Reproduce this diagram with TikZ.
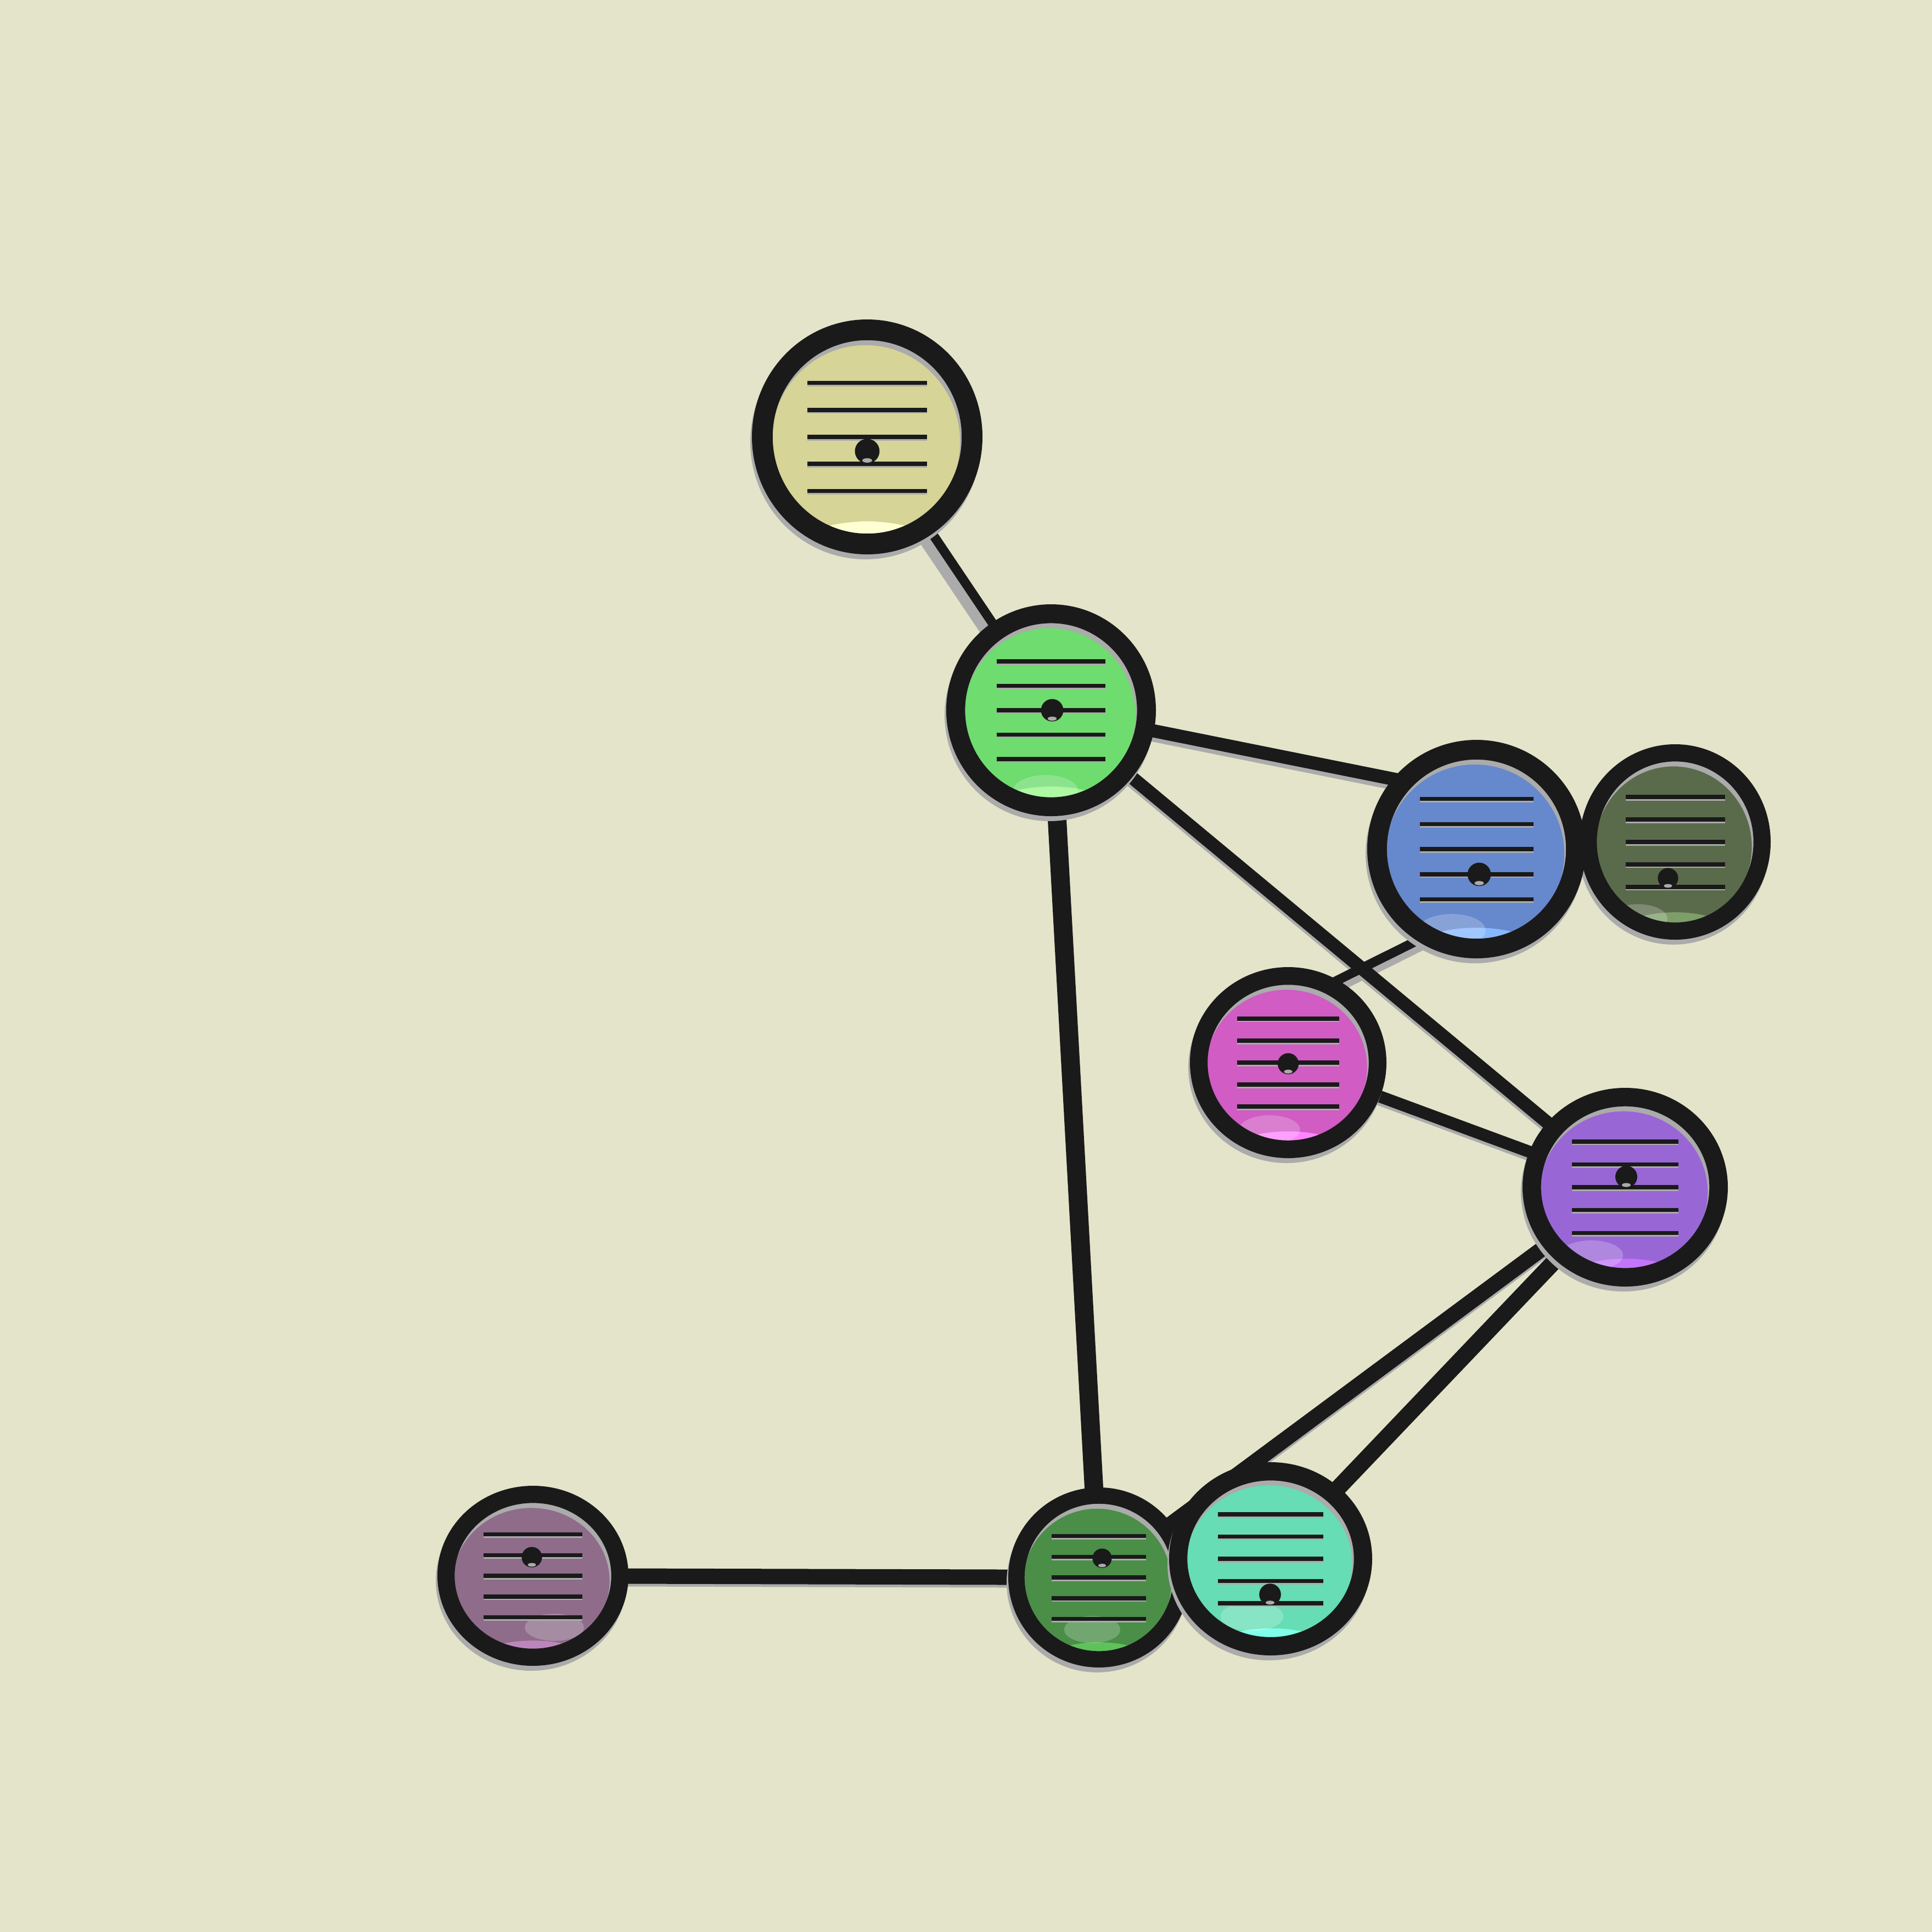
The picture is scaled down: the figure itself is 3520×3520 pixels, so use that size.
\documentclass[tikz,border=0pt]{standalone}
\usetikzlibrary{shapes.geometric}

\definecolor{bg}{HTML}{E4E4CA}
\definecolor{ink}{HTML}{1A1A1A}
\definecolor{dropgrey}{HTML}{ABABAB}
% body colours
\definecolor{cYel}{HTML}{D6D496}
\definecolor{cGrn}{HTML}{6EDC6E}
\definecolor{cBlu}{HTML}{6688CC}
\definecolor{cOlv}{HTML}{5A6B4B}
\definecolor{cPnk}{HTML}{D05CC4}
\definecolor{cPur}{HTML}{9966D6}
\definecolor{cDgr}{HTML}{4A8E48}
\definecolor{cTea}{HTML}{66DDB4}
\definecolor{cMau}{HTML}{8E6C8A}
% bottom glow colours
\definecolor{gYel}{HTML}{FFFFC8}
\definecolor{gGrn}{HTML}{98F58A}
\definecolor{gBlu}{HTML}{86B8FF}
\definecolor{gOlv}{HTML}{7D9E68}
\definecolor{gPnk}{HTML}{FF85FF}
\definecolor{gPur}{HTML}{C476FA}
\definecolor{gDgr}{HTML}{5DC25A}
\definecolor{gTea}{HTML}{7FFFEA}
\definecolor{gMau}{HTML}{BC86BC}

\tikzset{
  anchorbox/.style={ellipse, inner sep=0pt, outer sep=0pt, draw=none},
  link/.style={draw=ink, line cap=butt},
  linkshadow/.style={draw=dropgrey, line cap=butt},
  barline/.style={draw=ink, line width=0.75mm},
  barshadow/.style={draw=dropgrey, line width=0.7mm},
}

% #1 node, #2 x radius, #3 y radius, #4 body, #5 glow, #6/#7 knob offset, #8/#9 sheen offset
\newcommand\bubble[9]{%
\begin{scope}[shift={(#1.center)}]
  \pgfmathsetmacro\rw{0.18*#2}
  \pgfmathsetmacro\mx{#2-0.5*\rw}
  \pgfmathsetmacro\my{#3-0.5*\rw}
  \pgfmathsetmacro\ix{#2-\rw+2}
  \pgfmathsetmacro\iy{#3-\rw+2}
  \pgfmathsetmacro\hw{0.52*#2}
  \pgfmathsetmacro\gap{0.23*#3}
  \pgfmathsetmacro\dr{0.107*#2}
  \fill[#4] (0,0) ellipse [x radius=\ix, y radius=\iy];
  \begin{scope}
    \clip (0,0) ellipse [x radius=\ix, y radius=\iy];
    \fill[#5] (0,{0.96*#3}) ellipse [x radius={0.62*#2}, y radius={0.24*#3}];
    \fill[white, opacity=0.22] (#8,#9) ellipse [x radius={0.31*#2}, y radius={0.15*#3}];
  \end{scope}
  \foreach \k in {-2,...,2}{
    \draw[barshadow] (-\hw,{\k*\gap+3}) -- (\hw,{\k*\gap+3});
    \draw[barline] (-\hw,{\k*\gap}) -- (\hw,{\k*\gap});
  }
  \fill[ink] (#6,#7) circle [radius=\dr];
  \fill[dropgrey] (#6,{#7+0.75*\dr}) ellipse [x radius={0.4*\dr}, y radius={0.18*\dr}];
  \draw[dropgrey, line width=\rw*0.1mm] (-3,9) ellipse [x radius=\mx, y radius=\my];
  \draw[ink, line width=\rw*0.1mm] (0,0) ellipse [x radius=\mx, y radius=\my];
\end{scope}}

\begin{document}
\begin{tikzpicture}[x=0.1mm, y=-0.1mm]
  \fill[bg] (0,0) rectangle (3520,3520);

  % anchors for the bubbles
  \node[anchorbox, minimum width=42mm,   minimum height=42.8mm] (yel) at (1580,796)  {};
  \node[anchorbox, minimum width=38.2mm, minimum height=38.6mm] (grn) at (1915,1294) {};
  \node[anchorbox, minimum width=39.8mm, minimum height=39.8mm] (blu) at (2690,1547) {};
  \node[anchorbox, minimum width=34.8mm, minimum height=35.6mm] (olv) at (3052,1534) {};
  \node[anchorbox, minimum width=35.8mm, minimum height=34.8mm] (pnk) at (2347,1936) {};
  \node[anchorbox, minimum width=37.4mm, minimum height=36.2mm] (pur) at (2961,2163) {};
  \node[anchorbox, minimum width=33mm,   minimum height=32.8mm] (dgr) at (2002,2874) {};
  \node[anchorbox, minimum width=37mm,   minimum height=35.2mm] (tea) at (2315,2840) {};
  \node[anchorbox, minimum width=34.8mm, minimum height=32.8mm] (mau) at (971,2871)  {};

  % connector shadows
  \draw[linkshadow, line width=2.0mm, transform canvas={xshift=-2.2mm}] (yel.center) -- (grn.center);
  \draw[linkshadow, line width=2.4mm, shorten >=-2mm, transform canvas={yshift=-0.8mm}] (grn.center) -- (blu.140);
  \draw[linkshadow, line width=2.4mm, transform canvas={xshift=-0.3mm, yshift=-0.4mm}] (grn.center) -- (pur.center);
  \draw[linkshadow, line width=1.7mm, shorten >=-2mm, shorten <=-2mm, transform canvas={xshift=0.3mm, yshift=-1.2mm}] (blu.237) -- (pnk.59);
  \draw[linkshadow, line width=2.2mm, transform canvas={xshift=-0.2mm, yshift=-0.5mm}] (pnk.center) -- (pur.center);
  \draw[linkshadow, line width=2.8mm, transform canvas={xshift=0.2mm, yshift=-0.3mm}] (pur.center) -- (dgr.center);
  \draw[linkshadow, line width=2.8mm, transform canvas={yshift=-0.5mm}] (mau.center) -- (dgr.center);

  % connectors
  \draw[link, line width=1.7mm] (yel.center) -- (grn.center);
  \draw[link, line width=2.4mm, shorten >=-2mm] (grn.center) -- (blu.140);
  \draw[link, line width=2.4mm] (grn.center) -- (pur.center);
  \draw[link, line width=3.4mm] (grn.center) -- (dgr.center);
  \draw[link, line width=1.7mm, shorten >=-2mm, shorten <=-2mm] (blu.237) -- (pnk.59);
  \draw[link, line width=2.2mm] (pnk.center) -- (pur.center);
  \draw[link, line width=2.8mm] (pur.center) -- (dgr.center);
  \draw[link, line width=3.0mm] (pur.center) -- (tea.center);
  \draw[link, line width=2.8mm] (mau.center) -- (dgr.center);

  % bubbles
  \bubble{yel}{210}{214}{cYel}{gYel}{0}{26}{0}{185}
  \bubble{grn}{191}{193}{cGrn}{gGrn}{2}{0}{-10}{147}
  \bubble{olv}{174}{178}{cOlv}{gOlv}{-13}{66}{-68}{140}
  \bubble{blu}{199}{199}{cBlu}{gBlu}{5}{46}{-45}{148}
  \bubble{pnk}{179}{174}{cPnk}{gPnk}{0}{2}{-34}{122}
  \bubble{pur}{187}{181}{cPur}{gPur}{2}{-19}{-62}{124}
  \bubble{dgr}{165}{164}{cDgr}{gDgr}{6}{-35}{-12}{95}
  \bubble{tea}{185}{176}{cTea}{gTea}{-1}{65}{-34}{105}
  \bubble{mau}{174}{164}{cMau}{gMau}{-2}{-34}{39}{94}
\end{tikzpicture}
\end{document}
